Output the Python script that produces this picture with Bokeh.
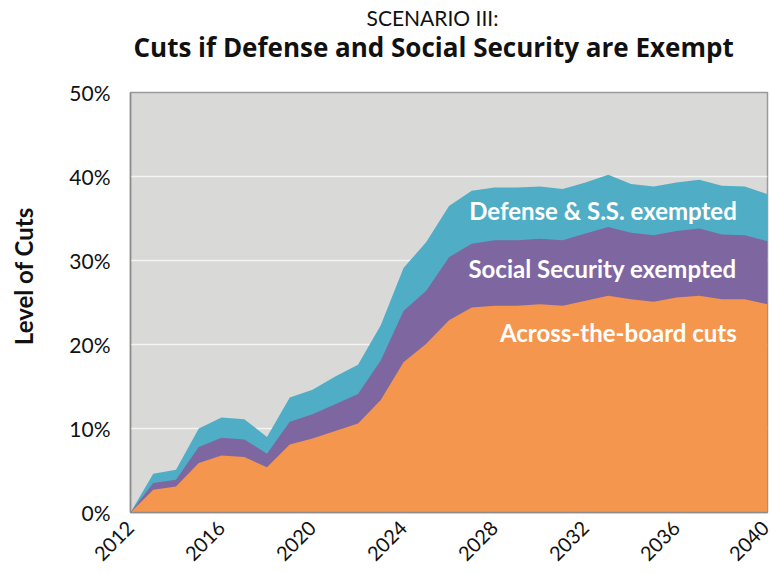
import math
from bokeh.plotting import figure
from bokeh.models import FixedTicker, PrintfTickFormatter, Label, Title, Range1d, ColumnDataSource
from bokeh.embed import file_html
from bokeh.resources import INLINE

years = list(range(2012, 2041))
across_the_board = [0, 2.7, 3.1, 5.9, 6.8, 6.6, 5.4, 8.1, 8.8, 9.7,
                    10.6, 13.4, 17.9, 20.1, 22.9, 24.4, 24.6, 24.6, 24.8, 24.6,
                    25.2, 25.8, 25.4, 25.1, 25.6, 25.8, 25.4, 25.4, 24.8]
ss_exempted = [0, 3.5, 3.9, 7.8, 8.9, 8.7, 7.0, 10.8, 11.7, 12.9,
               14.1, 18.1, 24.0, 26.4, 30.4, 32.0, 32.4, 32.4, 32.6, 32.4,
               33.2, 34.0, 33.3, 33.0, 33.5, 33.8, 33.1, 33.0, 32.3]
def_ss_exempted = [0, 4.6, 5.1, 10.0, 11.3, 11.1, 9.0, 13.7, 14.6, 16.2,
                   17.6, 22.3, 29.1, 32.2, 36.5, 38.3, 38.7, 38.7, 38.8, 38.5,
                   39.3, 40.2, 39.1, 38.8, 39.3, 39.6, 38.9, 38.8, 37.9]
x_ticks = list(range(2012, 2041, 4))
y_ticks = [0, 10, 20, 30, 40, 50]
series_names = ["Defense & S.S. exempted", "Social Security exempted", "Across-the-board cuts"]

source = ColumnDataSource(dict(year=years, atb=across_the_board, ss=ss_exempted, dss=def_ss_exempted))

FONT = "Lato"

p = figure(width=770, height=573, output_backend="svg", toolbar_location=None,
           x_range=Range1d(2012, 2040), y_range=Range1d(0, 50),
           min_border_left=130, min_border_right=3, min_border_bottom=61, min_border_top=92)

# outermost title line
p.title.text = "SCENARIO III:"
p.title.text_font = FONT
p.title.text_font_size = "21px"
p.title.text_font_style = "normal"
p.title.text_color = "#111111"
p.title.align = "left"
p.title.offset = 236
p.title.standoff = -6

# panels in "above": first added is closest to the plot frame
p.add_layout(Title(text=" ", text_font_size="12px", standoff=12), "above")  # spacer
p.add_layout(Title(text="Cuts if Defense and Social Security are Exempt", text_font="Open Sans",
                   text_font_size="26px", text_font_style="bold", text_color="#111111",
                   align="left", offset=3, standoff=0), "above")

p.background_fill_color = "#D9D9D8"
p.border_fill_color = "white"
p.outline_line_color = "#9A9A9A"
p.outline_line_width = 1.5

p.varea(x="year", y1=0, y2="dss", source=source, color="#4FADC6")
p.varea(x="year", y1=0, y2="ss", source=source, color="#7E66A0")
p.varea(x="year", y1=0, y2="atb", source=source, color="#F4964E")

p.xgrid.visible = False
p.ygrid.grid_line_color = "#F4F4F4"
p.ygrid.grid_line_width = 1.5
p.ygrid.ticker = FixedTicker(ticks=y_ticks)

p.xaxis.ticker = FixedTicker(ticks=x_ticks)
p.yaxis.ticker = FixedTicker(ticks=y_ticks)
p.yaxis.formatter = PrintfTickFormatter(format="%d%%")
for ax in (p.xaxis, p.yaxis):
    ax.major_tick_line_color = None
    ax.minor_tick_line_color = None
    ax.major_tick_out = 0
    ax.major_tick_in = 0
    ax.axis_line_color = "#8C8C8C"
    ax.axis_line_width = 1.5
    ax.major_label_text_font = FONT
    ax.major_label_text_color = "#111111"
p.xaxis.major_label_text_font_size = "20px"
p.yaxis.major_label_text_font_size = "21px"
p.xaxis.major_label_orientation = math.pi / 4
p.xaxis.major_label_standoff = 12
p.yaxis.major_label_standoff = 20
# leading no-break spaces nudge the centred label upwards, as in the original
p.yaxis.axis_label = "\u00a0" * 9 + "Level of Cuts"
p.yaxis.axis_label_text_font = FONT
p.yaxis.axis_label_text_font_size = "24px"
p.yaxis.axis_label_text_font_style = "bold"
p.yaxis.axis_label_text_color = "#111111"
p.yaxis.axis_label_standoff = 28

label_y = [35.95, 29.05, 21.4]
for name, ly in zip(series_names, label_y):
    p.add_layout(Label(x=2038.65, y=ly, text=name, text_align="right", text_baseline="middle",
                       text_color="white", text_font=FONT, text_font_style="bold",
                       text_font_size="24px"))

open("out.html", "w").write(file_html(p, INLINE))
